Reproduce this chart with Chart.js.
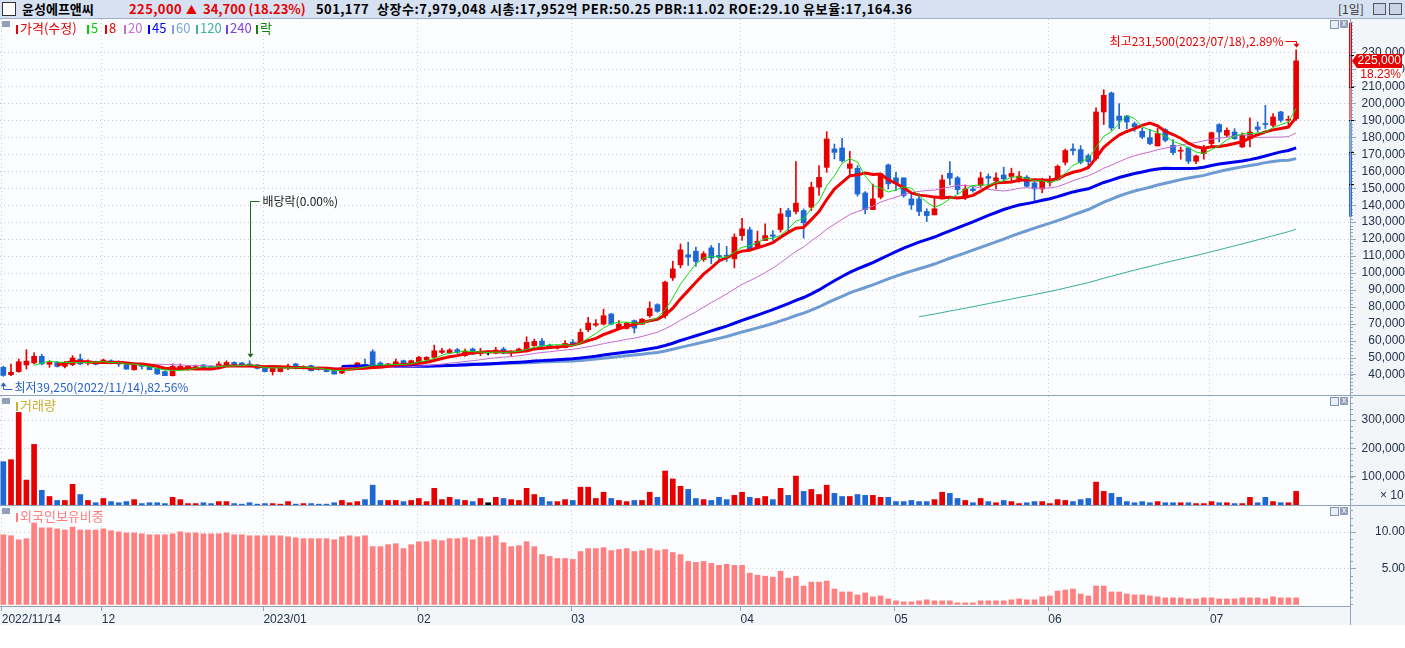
<!DOCTYPE html>
<html>
<head>
<meta charset="utf-8">
<title>윤성에프앤씨 일봉</title>
<script src="https://cdn.jsdelivr.net/npm/chart.js@4.4.1/dist/chart.umd.min.js"></script>
<style>
  body { margin: 0; width: 1405px; height: 648px; overflow: hidden; position: relative; background: #fff; font-family: "Noto Sans CJK KR", sans-serif; }
  .bg { position: absolute; }
  #hdr { position: absolute; left: 0; top: 0; width: 1405px; height: 18px; background: #d6e1f2; border-bottom: 1px solid #9fb0cc; }
  #hdr span { position: absolute; top: 0; line-height: 18px; font-size: 13px; font-weight: bold; white-space: nowrap; }
  canvas { position: absolute; left: 0; }
  .sep { position: absolute; background: #8fa4c0; }
  .leg { position: absolute; font-size: 13px; line-height: 14px; white-space: nowrap; }
  .mk { display: inline-block; width: 2px; height: 9px; margin: 0 2px 0 1px; vertical-align: -1px; }
  .sq { position: absolute; left: 2px; width: 8px; height: 6px; background: #8fa0b8; }
  .btn { position: absolute; width: 7px; height: 7px; border: 1px solid #7f93b0; background: #e8eef6; }
  .btnx { position: absolute; width: 8px; height: 8px; background: #8fa0b8; color: #fff; font: 8px/8px "DejaVu Sans"; text-align: center; }
  .ax { position: absolute; font: 12px "Liberation Sans"; color: #23304e; white-space: nowrap; }
</style>
</head>
<body>
<div class="bg" style="left:0;top:19px;width:1350px;height:587px;background:#fbfdfe"></div>
<div class="bg" style="left:1350px;top:19px;width:55px;height:606px;background:#f3f6f8"></div>
<div class="bg" style="left:0;top:607px;width:1405px;height:18px;background:#f3f6f8"></div>

<div id="hdr">
  <div style="position:absolute;left:2px;top:2px;width:12px;height:12px;border:1px solid #333;background:#fff"></div>
  <span style="left:22px;color:#000">윤성에프앤씨</span>
  <span style="left:129px;color:#e60000;letter-spacing:0.4px">225,000</span>
  <span style="left:186px;color:#e60000;font-size:11px">▲</span>
  <span style="left:203px;color:#e60000">34,700 (18.23%)</span>
  <span style="left:316px;color:#000;letter-spacing:0.4px">501,177</span>
  <span style="left:377px;color:#000;letter-spacing:0.55px">상장수:7,979,048 시총:17,952억 PER:50.25 PBR:11.02 ROE:29.10 유보율:17,164.36</span>
  <span style="left:1338px;color:#333;font-weight:normal;font-size:12px">[1일]</span>
  <div style="position:absolute;left:1373px;top:3px;width:11px;height:10px;border:1px solid #556;background:#c9d3e3"></div>
  <div style="position:absolute;left:1389px;top:3px;width:11px;height:10px;border:1px solid #556;background:#c9d3e3"></div>
</div>

<canvas id="cPrice" width="1405" height="376" style="top:19px"></canvas>
<canvas id="cVol" width="1405" height="109" style="top:396px"></canvas>
<canvas id="cRatio" width="1405" height="120" style="top:506px"></canvas>

<div class="sep" style="left:0;top:395px;width:1405px;height:1px"></div>
<div class="sep" style="left:0;top:505px;width:1405px;height:1px"></div>
<div class="sep" style="left:0;top:606px;width:1350px;height:1px"></div>
<div class="sep" style="left:1350px;top:19px;width:1px;height:606px"></div>

<div class="sq" style="top:21px"></div>
<div class="leg" style="left:15px;top:21px;color:#e60000"><i class="mk" style="background:#e60000"></i>가격(수정)</div>
<div class="leg" style="left:86px;top:21px;color:#00d000"><i class="mk" style="background:#00d000"></i>5</div>
<div class="leg" style="left:104px;top:21px;color:#e60000"><i class="mk" style="background:#e60000"></i>8</div>
<div class="leg" style="left:123px;top:21px;color:#c070d0"><i class="mk" style="background:#c070d0"></i>20</div>
<div class="leg" style="left:147px;top:21px;color:#0000ee"><i class="mk" style="background:#0000ee"></i>45</div>
<div class="leg" style="left:171px;top:21px;color:#7fa6d6"><i class="mk" style="background:#7fa6d6"></i>60</div>
<div class="leg" style="left:195px;top:21px;color:#3fb0a0"><i class="mk" style="background:#3fb0a0"></i>120</div>
<div class="leg" style="left:225px;top:21px;color:#8040e0"><i class="mk" style="background:#8040e0"></i>240</div>
<div class="leg" style="left:255px;top:21px;color:#108010"><i class="mk" style="background:#108010"></i>락</div>

<div class="sq" style="top:398px"></div>
<div class="leg" style="left:15px;top:398px;color:#c8b030"><i class="mk" style="background:#c8b030"></i>거래량</div>
<div class="sq" style="top:508px"></div>
<div class="leg" style="left:15px;top:509px;color:#ff7f7f"><i class="mk" style="background:#ff7f7f"></i>외국인보유비중</div>

<div class="btn" style="left:1330px;top:20px"></div><div class="btnx" style="left:1340px;top:20px">x</div>
<div class="btn" style="left:1330px;top:397px"></div><div class="btnx" style="left:1340px;top:397px">x</div>
<div class="btn" style="left:1330px;top:507px"></div><div class="btnx" style="left:1340px;top:507px">x</div>

<div class="ax" style="left:1380px;top:488px">× 10</div>

<script>
// 윤성에프앤씨 일봉 2022/11/14 ~ 2023/07/18 (수정주가, 원)
const open = [
  44500, 40200, 42000, 45900, 47100, 51000, 46300, 47400, 45100, 46100,
  49400, 47100, 47600, 47400, 48400, 47600, 46100, 43100, 45900, 45900,
  43900, 42000, 39600, 44300, 43100, 44100, 45900, 45100, 43900, 45500,
  47400, 47100, 46500, 45900, 45100, 42000, 42000, 44300, 46500, 44300,
  45500, 44100, 43900, 43100, 41200, 43900, 44500, 45900, 53700, 47100,
  45100, 45100, 48400, 45100, 47800, 49000, 50400, 53300, 53000, 54900,
  51400, 55300, 52800, 53000, 52900, 55300, 53500, 53700, 53700, 57300,
  60000, 57600, 55900, 56100, 59400, 59600, 66700, 69400, 70000, 75900,
  67400, 67400, 72000, 70000, 74900, 81400, 75000, 97200, 104900, 110800,
  112900, 108000, 114900, 110400, 110200, 108400, 122100, 125500, 115700, 119200,
  122500, 125700, 136800, 136300, 136800, 138800, 150600, 162300, 173100, 173700,
  161700, 161700, 147200, 137400, 144700, 163700, 156100, 156100, 143700, 143700,
  136300, 134300, 143700, 158800, 156100, 144300, 149600, 151600, 156900, 154500,
  157800, 156900, 155500, 156500, 153100, 149600, 153500, 154900, 165300, 173100,
  172700, 169200, 167500, 194900, 206100, 192500, 192500, 188000, 183500, 179800,
  174900, 184500, 175300, 171800, 173700, 165900, 170400, 176300, 187500, 181200,
  183100, 174300, 179200, 186100, 188000, 187000, 194900, 190000, 191000
];
const high = [
  45100, 46500, 49400, 54900, 53000, 52200, 48400, 48000, 48000, 51400,
  52300, 49000, 48200, 49400, 49000, 48200, 46500, 46700, 46500, 46300,
  44100, 42400, 46500, 46500, 45500, 45900, 46300, 45500, 47800, 48400,
  47800, 47400, 48400, 46300, 45300, 44700, 45300, 46500, 46900, 45500,
  45900, 44500, 44100, 43500, 44900, 45900, 47400, 49400, 54900, 47800,
  46900, 49400, 48800, 48800, 51000, 50800, 57600, 55700, 55500, 55700,
  55300, 55900, 55700, 54300, 56300, 56300, 54300, 55900, 62500, 61200,
  61600, 58200, 57300, 60200, 60800, 67100, 73900, 72700, 78800, 76300,
  72000, 70800, 72400, 73300, 83100, 82000, 95300, 107000, 117200, 118200,
  115300, 112700, 116300, 117600, 115700, 123100, 132300, 127000, 124700, 129000,
  125100, 138200, 138200, 165700, 137800, 153500, 163300, 183300, 176000, 179400,
  171700, 163300, 148000, 152500, 158400, 164300, 159400, 156100, 146700, 146700,
  137900, 144100, 157800, 165700, 156900, 152000, 151600, 159400, 158400, 159000,
  162400, 161800, 159800, 157500, 153900, 155900, 157100, 163700, 173100, 176100,
  175100, 170200, 197400, 208000, 206700, 199800, 192900, 189000, 185500, 184700,
  185500, 185100, 178600, 174300, 174300, 169400, 175300, 183100, 188000, 185500,
  185100, 182600, 191400, 189000, 198800, 193900, 195300, 192500, 231500
];
const low = [
  39250, 39600, 41600, 43500, 46500, 46000, 44500, 44700, 44100, 45500,
  46100, 45900, 45900, 46900, 46500, 45100, 43300, 42900, 43500, 43100,
  40400, 39600, 39400, 43100, 42900, 43700, 44100, 43300, 43500, 45100,
  44900, 44700, 45100, 43500, 41800, 40000, 41800, 43100, 43500, 43500,
  42400, 42900, 41800, 40400, 40800, 43500, 44100, 45100, 45500, 44900,
  44700, 44900, 45100, 44700, 47400, 48600, 49800, 52500, 52500, 52500,
  51000, 52000, 51400, 51800, 52500, 52500, 51000, 53300, 53500, 56900,
  55300, 55900, 55300, 55900, 57300, 59200, 65500, 68600, 69400, 69600,
  67100, 67100, 64700, 69600, 73900, 76900, 73500, 95700, 103100, 104500,
  104100, 106900, 105500, 106500, 106900, 103100, 119200, 113300, 115100, 119200,
  119200, 124100, 125100, 134900, 120600, 136800, 145700, 159400, 167200, 165300,
  157400, 145300, 134900, 137400, 143700, 149600, 148600, 144700, 137500, 133900,
  130400, 134300, 143700, 152000, 146700, 143300, 147600, 150600, 150000, 149600,
  154500, 154500, 153500, 150600, 142700, 147300, 151200, 154900, 163700, 169600,
  164300, 161400, 166500, 187500, 184100, 185100, 185100, 183500, 179200, 175700,
  174900, 177300, 169800, 167100, 164500, 164500, 167100, 174300, 177300, 180200,
  178800, 173900, 174300, 183100, 185100, 186100, 189000, 187000, 190000
];
const close = [
  39800, 41600, 47800, 48200, 51000, 46500, 47400, 45100, 47400, 50000,
  46500, 48000, 46300, 48800, 46900, 46500, 43500, 46500, 45100, 43100,
  40600, 39600, 45100, 45100, 45100, 44900, 44300, 43500, 46500, 47400,
  45100, 45100, 45500, 43900, 42000, 44500, 45100, 45300, 43900, 44900,
  42500, 43500, 42000, 40600, 44500, 45500, 47100, 45700, 45900, 45100,
  46500, 47800, 45500, 48400, 50400, 50400, 54300, 54300, 54700, 53300,
  54100, 52400, 53300, 53000, 54700, 52900, 53900, 55300, 59200, 59800,
  57300, 56300, 56700, 58600, 57600, 65100, 70600, 70200, 74900, 70000,
  70000, 70600, 67600, 72900, 79200, 77500, 94700, 102500, 113700, 109400,
  106900, 111400, 109000, 109600, 110000, 121200, 126100, 113700, 118800, 122100,
  121700, 134900, 133300, 141200, 129600, 150600, 156400, 179000, 171100, 166200,
  164300, 146600, 137400, 143700, 158400, 152600, 153100, 145700, 140200, 136300,
  133900, 137900, 154900, 155900, 149200, 149600, 148600, 156100, 155900, 156100,
  155500, 158800, 157100, 151200, 149600, 154900, 154900, 162900, 172200, 172200,
  165300, 165700, 194900, 204700, 185500, 190000, 189000, 186100, 180200, 176300,
  182200, 178200, 171000, 172400, 165900, 169000, 173900, 182700, 183100, 184100,
  179200, 181200, 183100, 184700, 187500, 192000, 190000, 190300, 225000
];
// 거래량 (축 표시 단위 ×10주)
const volume = [
  153000, 160000, 327000, 88000, 214000, 52000, 30000, 16000, 16000, 73000,
  37000, 16000, 8000, 23000, 12000, 8000, 12000, 19000, 5000, 8000,
  8000, 5000, 27000, 19000, 5000, 5000, 8000, 5000, 12000, 12000,
  5000, 3000, 8000, 3000, 5000, 5000, 3000, 12000, 3000, 5000,
  5000, 3000, 3000, 8000, 16000, 8000, 12000, 19000, 70000, 16000,
  16000, 16000, 12000, 16000, 23000, 12000, 59000, 19000, 27000, 19000,
  16000, 12000, 23000, 8000, 27000, 23000, 19000, 16000, 59000, 37000,
  27000, 12000, 12000, 19000, 16000, 63000, 63000, 23000, 45000, 23000,
  16000, 12000, 16000, 16000, 45000, 27000, 120000, 92000, 66000, 55000,
  23000, 19000, 16000, 27000, 19000, 34000, 45000, 27000, 23000, 30000,
  19000, 59000, 34000, 102000, 48000, 55000, 37000, 70000, 41000, 30000,
  30000, 37000, 34000, 34000, 27000, 27000, 12000, 12000, 16000, 12000,
  12000, 19000, 45000, 41000, 23000, 16000, 8000, 23000, 12000, 8000,
  16000, 12000, 5000, 8000, 12000, 12000, 5000, 19000, 16000, 12000,
  19000, 23000, 81000, 48000, 41000, 27000, 12000, 8000, 12000, 8000,
  12000, 8000, 8000, 8000, 8000, 5000, 5000, 12000, 8000, 8000,
  5000, 5000, 27000, 8000, 27000, 12000, 8000, 8000, 48000
];
// 외국인보유비중 (%)
const foreignRatio = [
  9.64, 9.5, 8.95, 9.1, 11.27, 10.6, 10.6, 10.45, 10.3, 10.7,
  10.3, 10.3, 10.3, 10.45, 10.2, 10.05, 9.9, 9.9, 9.77, 9.64,
  9.64, 9.64, 9.77, 10.05, 9.9, 9.9, 9.77, 9.77, 9.77, 9.9,
  9.64, 9.64, 9.5, 9.5, 9.5, 9.5, 9.5, 9.36, 9.23, 9.1,
  9.1, 9.1, 9.1, 8.95, 9.36, 9.5, 9.36, 9.5, 8.0, 8.0,
  8.27, 8.4, 7.73, 8.27, 8.68, 8.68, 8.95, 8.82, 9.1, 9.1,
  9.23, 8.95, 9.36, 9.36, 9.5, 8.55, 8.0, 8.14, 8.68, 8.0,
  6.9, 6.64, 6.36, 6.36, 6.23, 7.32, 7.73, 7.73, 7.86, 7.45,
  7.6, 7.73, 7.32, 7.45, 7.73, 7.45, 7.6, 7.18, 6.9, 5.95,
  5.82, 5.95, 5.68, 5.41, 5.55, 5.41, 5.41, 4.32, 4.05, 3.91,
  3.77, 4.59, 3.64, 3.91, 2.55, 3.09, 3.09, 3.23, 2.14, 1.73,
  1.73, 1.32, 1.59, 1.05, 1.18, 0.77, 0.5, 0.36, 0.36, 0.5,
  0.64, 0.5, 0.5, 0.5, 0.23, 0.23, 0.23, 0.5, 0.5, 0.5,
  0.5, 0.64, 0.77, 0.64, 0.64, 1.05, 1.18, 1.86, 2.0, 2.14,
  1.45, 1.18, 2.55, 2.55, 1.73, 1.73, 1.45, 1.32, 1.32, 1.18,
  1.05, 0.91, 0.91, 0.91, 0.77, 0.77, 0.91, 0.91, 0.77, 0.77,
  0.77, 0.91, 0.91, 0.91, 0.77, 1.05, 0.91, 0.91, 0.91
];

// x축 월 구분 (거래일 순번)
const tickIdx = [0, 13, 34, 54, 74, 96, 116, 136, 157];
const tickLabels = ['2022/11/14', '12', '2023/01', '02', '03', '04', '05', '06', '07'];
const priceTicks = [40000, 50000, 60000, 70000, 80000, 90000, 100000, 110000, 120000, 130000,
  140000, 150000, 160000, 170000, 180000, 190000, 200000, 210000, 220000, 230000];
const volumeTicks = [100000, 200000, 300000];
const ratioTicks = [5, 10];
const exDividendIdx = 32;          // 배당락일 (2022/12/28)
const hiDate = '2023/07/18', loDate = '2022/11/14';

const UP = '#e60000', DOWN = '#1f67d2', FLAT = '#000000';
const GRID = '#c9ced6', AXIS = '#8fa4c0', TXT = '#23304e';
const xMin = -0.43, xMax = 175.0;

Chart.defaults.font.family = 'Liberation Sans';
Chart.defaults.font.size = 12;

const idx = close.map((_, i) => i);
const candleColor = close.map((c, i) => c > open[i] ? UP : (c < open[i] ? DOWN : FLAT));

function movingAvg(n) {
  const out = [];
  for (let i = n - 1; i < close.length; i++) {
    let s = 0;
    for (let k = i - n + 1; k <= i; k++) s += close[k];
    out.push({ x: i, y: s / n });
  }
  return out;
}

const maLines = [
  { n: 5, color: '#10e010', width: 1 },
  { n: 8, color: '#f00000', width: 3 },
  { n: 20, color: '#c86ad0', width: 1 },
  { n: 45, color: '#0000f0', width: 3 },
  { n: 60, color: '#6f9bd3', width: 3 },
  { n: 120, color: '#35ac9c', width: 1 }
];

function xAxis(showLabels) {
  return {
    type: 'linear', min: xMin, max: xMax, offset: false,
    afterBuildTicks: s => { s.ticks = tickIdx.map(i => ({ value: i - 0.2 })); },
    afterFit: s => { s.paddingLeft = 0; s.paddingRight = 0; s.height = showLabels ? 20 : 0; },
    grid: { offset: false, color: GRID, drawTicks: showLabels, tickLength: 5, tickColor: AXIS },
    border: { display: false, dash: [1, 3] },
    ticks: {
      display: showLabels, align: 'start', padding: 1, autoSkip: false, maxRotation: 0,
      color: TXT, callback: (v, k) => tickLabels[k]
    }
  };
}

function yAxis(min, max, ticks, fmt) {
  return {
    position: 'right', min: min, max: max,
    afterBuildTicks: s => { s.ticks = ticks.map(v => ({ value: v })); },
    afterFit: s => { s.width = 55; s.paddingTop = 0; s.paddingBottom = 0; },
    grid: { color: GRID, tickLength: 6, tickColor: AXIS },
    border: { display: false, dash: [1, 3] },
    ticks: { crossAlign: 'far', padding: 2, color: TXT, callback: fmt }
  };
}

const won = v => v.toLocaleString('en-US');

// 오른쪽 축 보조 눈금
function minorTicks(step) {
  return {
    id: 'minorTicks',
    afterDraw(chart) {
      const { ctx, scales: { y }, chartArea } = chart;
      ctx.save();
      ctx.fillStyle = AXIS;
      for (let v = Math.ceil(y.min / step) * step; v <= y.max; v += step) {
        ctx.fillRect(chartArea.right, Math.round(y.getPixelForValue(v)), 3, 1);
      }
      ctx.restore();
    }
  };
}

function arrowHead(ctx, x, y, dir) {
  ctx.beginPath();
  ctx.moveTo(x, y);
  ctx.lineTo(x - 3, y - 4 * dir);
  ctx.lineTo(x + 3, y - 4 * dir);
  ctx.closePath();
  ctx.fill();
}

// 최고/최저, 배당락, 현재가 표시
const markers = {
  id: 'markers',
  afterDraw(chart) {
    const { ctx, scales: { x, y }, chartArea } = chart;
    const last = close.length - 1;
    const cur = close[last], prev = close[last - 1];
    const hi = Math.max(...high), hiI = high.indexOf(hi);
    const lo = Math.min(...low), loI = low.indexOf(lo);
    ctx.save();
    ctx.font = '12px "Noto Sans CJK KR"';
    ctx.textBaseline = 'middle';
    ctx.lineWidth = 1;

    // 최고
    let px = Math.round(x.getPixelForValue(hiI)) + 0.5, py = y.getPixelForValue(hi);
    const ty = Math.round(py - 9) + 0.5;
    ctx.strokeStyle = ctx.fillStyle = UP;
    ctx.textAlign = 'right';
    ctx.fillText('최고' + won(hi) + '(' + hiDate + '),' + ((hi - cur) / cur * 100).toFixed(2) + '%', px - 13, ty);
    ctx.beginPath(); ctx.moveTo(px - 11, ty); ctx.lineTo(px, ty); ctx.lineTo(px, py - 6); ctx.stroke();
    arrowHead(ctx, px, py - 2, 1);

    // 최저
    px = Math.round(x.getPixelForValue(loI)) + 0.5; py = y.getPixelForValue(lo);
    const tip = py + 6, by = Math.round(py + 13) + 0.5;
    ctx.strokeStyle = ctx.fillStyle = '#2a62c8';
    ctx.beginPath(); ctx.moveTo(px, tip + 3); ctx.lineTo(px, by); ctx.lineTo(px + 9, by); ctx.stroke();
    arrowHead(ctx, px, tip, -1);
    ctx.textAlign = 'left';
    ctx.fillText('최저' + won(lo) + '(' + loDate + '),' + ((cur - lo) / cur * 100).toFixed(2) + '%', px + 11, by - 2);

    // 배당락
    px = Math.round(x.getPixelForValue(exDividendIdx)) + 0.5;
    py = y.getPixelForValue(high[exDividendIdx]) - 3;
    const top = Math.round(py - 157) + 0.5;
    ctx.strokeStyle = ctx.fillStyle = '#1b6b1b';
    ctx.beginPath(); ctx.moveTo(px + 9, top); ctx.lineTo(px, top); ctx.lineTo(px, py - 4); ctx.stroke();
    arrowHead(ctx, px, py, 1);
    ctx.fillStyle = '#202020';
    ctx.fillText('배당락(0.00%)', px + 12, top);

    // 가격제한폭 게이지 (전일종가 기준 ±30%, 10% 눈금)
    const lv = [1.3, 1.2, 1.1, 1.0, 0.9, 0.8, 0.7].map(k => y.getPixelForValue(prev * k));
    const gc = [UP, UP, '#e86a6a', '#6d9ad8', '#2a6ed8', '#2a6ed8'];
    const gx = chartArea.right - 1;
    for (let k = 0; k < 6; k++) { ctx.fillStyle = gc[k]; ctx.fillRect(gx, lv[k], 3, lv[k + 1] - lv[k]); }
    ctx.fillStyle = '#000';
    for (let k = 1; k < 6; k++) ctx.fillRect(gx, Math.round(lv[k]), 5, 1);

    // 현재가 라벨
    const cy = Math.round(y.getPixelForValue(cur));
    const bx = chartArea.right + 7;
    ctx.fillStyle = UP;
    ctx.beginPath(); ctx.moveTo(chartArea.right + 2, cy); ctx.lineTo(bx, cy - 7); ctx.lineTo(bx, cy + 7); ctx.closePath(); ctx.fill();
    ctx.fillRect(bx, cy - 7, 45, 14);
    ctx.fillStyle = '#fff';
    ctx.fillRect(bx, cy + 7, 45, 13);
    ctx.font = '12px "Liberation Sans"';
    ctx.textAlign = 'right';
    ctx.fillText(won(cur), bx + 44, cy);
    ctx.fillStyle = UP;
    ctx.fillText(((cur - prev) / prev * 100).toFixed(2) + '%', bx + 44, cy + 14);
    ctx.restore();
  }
};

const common = { responsive: false, animation: false, events: [], layout: { padding: 0 },
  plugins: { legend: { display: false }, tooltip: { enabled: false } } };

new Chart(document.getElementById('cPrice'), {
  type: 'bar',
  data: {
    datasets: [
      ...maLines.map(m => ({
        type: 'line', label: String(m.n), data: movingAvg(m.n),
        borderColor: m.color, borderWidth: m.width, pointRadius: 0, fill: false, tension: 0
      })),
      { label: '가격(수정)', data: idx.map(i => ({ x: i, y: [open[i], close[i]] })),
        backgroundColor: candleColor, barThickness: 5, minBarLength: 1, grouped: false },
      { label: '꼬리', data: idx.map(i => ({ x: i, y: [low[i], high[i]] })),
        backgroundColor: candleColor, barThickness: 1, grouped: false }
    ]
  },
  options: Object.assign({}, common, {
    scales: {
      x: xAxis(false),
      y: yAxis(28221, 249658, priceTicks, v => won(v))
    }
  }),
  plugins: [minorTicks(2000), markers]
});

new Chart(document.getElementById('cVol'), {
  type: 'bar',
  data: {
    datasets: [{ label: '거래량', data: idx.map(i => ({ x: i, y: volume[i] })),
      backgroundColor: candleColor, barThickness: 5 }]
  },
  options: Object.assign({}, common, {
    scales: {
      x: xAxis(false),
      y: yAxis(0, 385000, volumeTicks, v => won(v))
    }
  }),
  plugins: [minorTicks(20000)]
});

new Chart(document.getElementById('cRatio'), {
  type: 'bar',
  data: {
    datasets: [{ label: '외국인보유비중', data: idx.map(i => ({ x: i, y: foreignRatio[i] })),
      backgroundColor: '#ff8080', barThickness: 5 }]
  },
  options: Object.assign({}, common, {
    scales: {
      x: xAxis(true),
      y: yAxis(-0.214, 13.62, ratioTicks, v => v.toFixed(2))
    }
  }),
  plugins: [minorTicks(1)]
});
</script>
</body>
</html>
